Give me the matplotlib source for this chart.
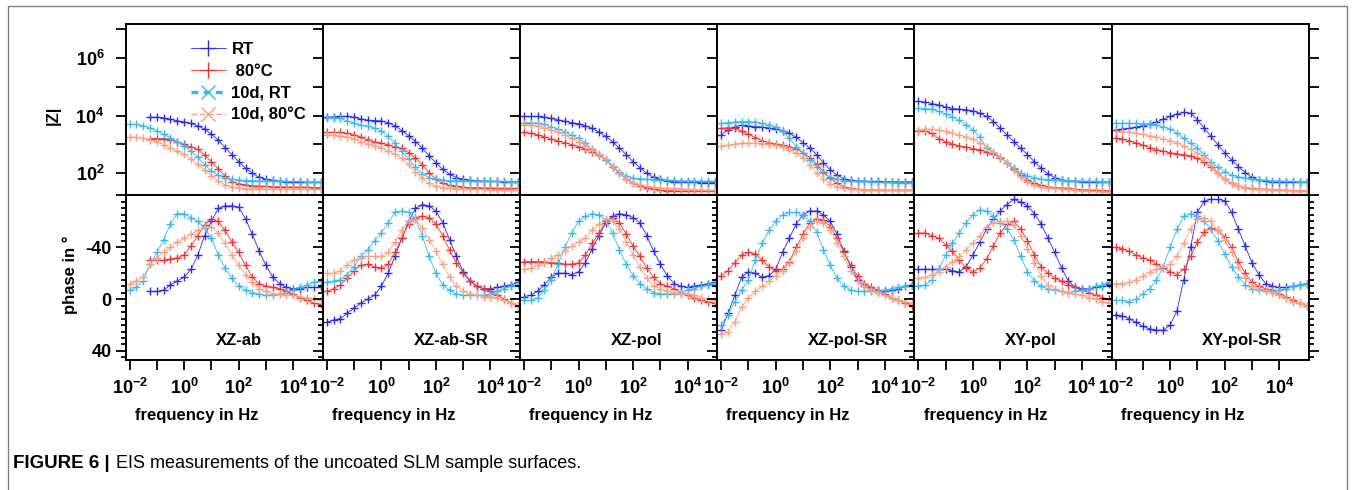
import numpy as np
import matplotlib
matplotlib.use("Agg")
import matplotlib.pyplot as plt
from matplotlib.lines import Line2D
from matplotlib.patches import Rectangle
from matplotlib.ticker import FixedLocator, NullFormatter, FuncFormatter

plt.rcParams['font.family'] = ['Liberation Sans', 'DejaVu Sans']
plt.rcParams['mathtext.fontset'] = 'custom'
plt.rcParams['mathtext.rm'] = 'Liberation Sans'
plt.rcParams['mathtext.bf'] = 'Liberation Sans:bold'

nan = np.nan

# frequency sweep in Hz
freq = [0.01, 0.0178, 0.0316, 0.0562, 0.1, 0.178, 0.316, 0.562, 1.0, 1.78, 3.16, 5.62,
        10, 17.8, 31.6, 56.2, 100, 178, 316, 562, 1000, 1780, 3160, 5620,
        1e4, 1.78e4, 3.16e4, 5.62e4, 1e5]

labels = ['RT', ' 80°C', '10d, RT', '10d, 80°C']
samples = ['XZ-ab', 'XZ-ab-SR', 'XZ-pol', 'XZ-pol-SR', 'XY-pol', 'XY-pol-SR']

# |Z| in Ohm
z_xzab_rt = [nan, nan, nan, 8700, 8700, 8300, 7300, 6600, 6000, 5400, 4400, 3400, 2250, 1400, 780, 440,
             250, 150, 100, 72, 62, 57, 53, 50, 49, 48, 48, 48, 48]
z_xzab_80 = [nan, nan, nan, 1600, 1600, 1600, 1450, 1230, 1000, 830, 670, 430, 250, 140, 81, 51,
             43, 40, 37, 36, 35, 34, 34, 33, 33, 33, 33, 32, 32]
z_xzab_10rt = [5000, 4900, 4400, 3700, 3000, 2250, 1700, 1250, 890, 590, 360, 200, 120, 85, 69, 62,
               59, 56, 56, 55, 54, 54, 53, 53, 52, 52, 51, 51, 51]
z_xzab_1080 = [1800, 1780, 1620, 1440, 1230, 990, 780, 590, 460, 320, 210, 130, 82, 53, 40, 34,
               31, 29, 29, 29, 28, 28, 28, 28, 28, 28, 28, 28, 28]

z_xzabsr_rt = [8800, 9000, 9300, 9300, 8800, 7600, 6900, 6700, 6500, 5700, 4400, 3000, 2000, 1250, 740, 400,
               230, 137, 93, 71, 62, 57, 55, 53, 52, 52, 51, 51, 51]
z_xzabsr_80 = [2600, 2600, 2600, 2400, 2100, 1780, 1450, 1230, 1100, 960, 840, 740, 520, 330, 195, 105,
               62, 45, 38, 35, 33, 32, 32, 31, 31, 30, 30, 30, 30]
z_xzabsr_10rt = [8500, 8500, 7900, 6600, 5400, 4700, 4300, 3700, 2900, 1900, 1100, 570, 310, 160, 95, 71,
                 62, 59, 56, 55, 55, 54, 54, 53, 53, 52, 52, 51, 51]
z_xzabsr_1080 = [2100, 2100, 1950, 1780, 1510, 1250, 1050, 890, 740, 590, 470, 330, 210, 115, 67, 45,
                 36, 32, 30, 29, 29, 28, 28, 28, 27, 27, 27, 27, 27]

z_xzpol_rt = [9300, 9300, 9300, 8800, 7900, 7100, 6300, 5700, 5200, 4400, 3600, 2700, 1900, 1230, 740, 440,
              250, 157, 100, 72, 61, 56, 51, 49, 48, 48, 47, 47, 47]
z_xzpol_80 = [2600, 2400, 2150, 1830, 1550, 1300, 1150, 980, 840, 690, 560, 420, 290, 170, 100, 62,
              45, 36, 31, 28, 26, 25, 25, 24, 24, 24, 24, 24, 24]
z_xzpol_10rt = [5700, 5600, 5400, 4900, 4100, 3400, 2700, 2100, 1630, 1100, 680, 440, 290, 170, 108, 81,
                69, 65, 62, 60, 59, 58, 57, 56, 55, 54, 54, 53, 53]
z_xzpol_1080 = [4800, 4700, 4400, 3800, 3200, 2600, 2100, 1630, 1250, 910, 650, 460, 310, 185, 105, 65,
                47, 40, 35, 33, 31, 30, 30, 29, 28, 27, 27, 26, 26]

z_xzpolsr_rt = [2150, 3200, 4100, 4600, 4400, 4100, 4000, 3700, 3500, 3000, 2400, 1780, 1150, 740, 440, 230,
                131, 86, 65, 57, 54, 53, 52, 52, 51, 51, 50, 50, 50]
z_xzpolsr_80 = [3600, 3800, 3600, 2900, 2250, 1730, 1350, 1150, 1040, 940, 840, 690, 520, 350, 210, 115,
                67, 45, 34, 30, 28, 27, 27, 26, 26, 26, 26, 26, 26]
z_xzpolsr_10rt = [5400, 5700, 6000, 6200, 6200, 6000, 5400, 4800, 4100, 2800, 1630, 840, 490, 290, 170, 100,
                  72, 62, 56, 54, 53, 52, 51, 50, 48, 48, 47, 47, 47]
z_xzpolsr_1080 = [890, 940, 1040, 1100, 1100, 1100, 1070, 1020, 940, 800, 650, 490, 330, 195, 105, 62,
                  43, 34, 31, 29, 28, 27, 27, 26, 26, 26, 26, 26, 26]

z_xypol_rt = [31000, 29000, 26000, 23000, 19500, 17500, 16600, 15800, 14500, 12000, 9300, 6200, 3600, 2100,
              1250, 740, 440, 250, 148, 95, 71, 59, 54, 52, 51, 51, 50, 50, 50]
z_xypol_80 = [3000, 2900, 2400, 1550, 1250, 1000, 890, 800, 720, 650, 550, 460, 350, 235, 138, 87,
              59, 45, 38, 34, 32, 31, 30, 28, 27, 26, 26, 25, 25]
z_xypol_10rt = [18000, 17400, 16600, 13800, 11500, 9200, 6800, 4700, 3200, 1780, 760, 520, 360, 235, 148, 105,
                83, 71, 63, 60, 59, 57, 56, 55, 54, 53, 52, 51, 51]
z_xypol_1080 = [3200, 3350, 3350, 3100, 2800, 2450, 2150, 1780, 1510, 1150, 840, 550, 360, 220, 125, 73,
                49, 38, 34, 32, 30, 29, 28, 27, 25, 24, 24, 23, 23]

z_xypolsr_rt = [3200, 3400, 3600, 4000, 4400, 5000, 6000, 7400, 9300, 11400, 13000, 12000, 7100, 3600, 1900, 960,
                520, 290, 170, 105, 72, 58, 52, 51, 50, 50, 50, 50, 50]
z_xypolsr_80 = [1630, 1550, 1350, 1100, 940, 780, 660, 580, 520, 470, 440, 400, 330, 250, 170, 100,
                63, 45, 36, 32, 30, 28, 28, 27, 26, 26, 25, 25, 25]
z_xypolsr_10rt = [5400, 5400, 5400, 5400, 5200, 5100, 4700, 4100, 3400, 2450, 1630, 1100, 740, 440, 250, 160,
                  115, 87, 76, 69, 63, 60, 57, 55, 54, 53, 52, 51, 50]
z_xypolsr_1080 = [2800, 2700, 2600, 2450, 2250, 2000, 1830, 1600, 1350, 1100, 890, 680, 490, 330, 195, 105,
                  63, 45, 36, 32, 29, 28, 28, 27, 26, 26, 25, 25, 25]

# phase in degrees
ph_xzab_rt = [nan, nan, nan, -6, -6, -7, -11, -14, -17, -23, -34, -49, -60, -70, -72, -72,
              -71, -62, -50, -37, -26, -17, -12, -9, -8, -8, -9, -9, -9]
ph_xzab_80 = [nan, nan, nan, -30, -30, -30, -31, -32, -34, -41, -49, -57, -62, -60, -53, -44,
              -36, -26, -17, -12, -10, -9, -8, -6, -4, -1, 1, 3, 4]
ph_xzab_10rt = [-7, -9, -14, -27, -36, -46, -58, -66, -66, -63, -60, -55, -47, -34, -24, -16,
                -10, -7, -5, -4, -3, -3, -4, -5, -7, -9, -11, -13, -14]
ph_xzab_1080 = [-12, -14, -17, -27, -32, -36, -40, -44, -47, -50, -53, -56, -56, -51, -43, -34,
                -26, -19, -13, -8, -6, -4, -4, -3, -3, -2, -1, 0, 1]

ph_xzabsr_rt = [18, 16, 15, 11, 7, 3, 0, -3, -10, -20, -33, -47, -60, -70, -73, -72,
                -68, -59, -46, -33, -21, -14, -10, -8, -8, -9, -10, -11, -13]
ph_xzabsr_80 = [-6, -8, -11, -16, -22, -26, -27, -25, -24, -27, -36, -47, -58, -63, -64, -63,
                -58, -49, -38, -28, -20, -14, -10, -8, -6, -3, 0, 3, 5]
ph_xzabsr_10rt = [-13, -14, -15, -19, -25, -33, -38, -45, -51, -59, -67, -68, -67, -62, -49, -33,
                  -20, -11, -7, -4, -3, -3, -3, -3, -4, -6, -8, -10, -11]
ph_xzabsr_1080 = [-20, -20, -22, -26, -30, -32, -33, -33, -33, -36, -44, -53, -60, -62, -55, -46,
                  -37, -27, -17, -10, -6, -4, -3, -2, -2, -1, 1, 3, 5]

ph_xzpol_rt = [-2, -3, -6, -11, -17, -20, -20, -19, -21, -28, -39, -49, -59, -64, -66, -65,
               -63, -59, -49, -37, -27, -18, -12, -10, -9, -10, -11, -12, -13]
ph_xzpol_80 = [-29, -29, -29, -29, -28, -28, -27, -27, -28, -34, -43, -51, -60, -63, -59, -50,
               -41, -33, -24, -17, -12, -10, -8, -5, -3, -1, 1, 2, 3]
ph_xzpol_10rt = [1, 1, -1, -7, -15, -27, -40, -51, -60, -64, -66, -65, -61, -51, -38, -27,
                 -18, -12, -8, -5, -4, -4, -4, -5, -7, -8, -10, -11, -12]
ph_xzpol_1080 = [-23, -24, -26, -28, -32, -34, -37, -41, -44, -47, -53, -58, -62, -60, -54, -44,
                 -34, -25, -16, -10, -8, -6, -5, -4, -4, -3, -1, 0, 1]

ph_xzpolsr_rt = [24, 11, -3, -17, -21, -20, -17, -18, -23, -36, -47, -58, -65, -68, -68, -65,
                 -60, -50, -37, -25, -15, -10, -7, -6, -6, -7, -8, -10, -11]
ph_xzpolsr_80 = [-18, -22, -28, -34, -36, -35, -30, -25, -22, -23, -29, -40, -50, -59, -62, -61,
                 -56, -47, -36, -26, -18, -12, -9, -7, -4, -1, 1, 3, 5]
ph_xzpolsr_10rt = [20, 12, 2, -7, -15, -30, -43, -53, -60, -65, -67, -67, -65, -60, -52, -38,
                   -26, -16, -10, -7, -6, -6, -6, -6, -7, -8, -9, -10, -10]
ph_xzpolsr_1080 = [27, 25, 18, 6, -1, -6, -10, -14, -18, -22, -28, -37, -47, -56, -60, -59,
                   -53, -43, -33, -22, -14, -10, -7, -5, -3, -1, 1, 2, 3]

ph_xypol_rt = [-23, -23, -23, -23, -23, -22, -21, -25, -34, -44, -54, -62, -68, -73, -77, -75,
               -72, -66, -58, -47, -36, -24, -14, -9, -8, -8, -9, -10, -12]
ph_xypol_80 = [-51, -51, -49, -47, -42, -37, -30, -24, -21, -24, -31, -41, -51, -58, -60, -54,
               -45, -34, -25, -20, -16, -14, -11, -9, -7, -5, -3, -1, 0]
ph_xypol_10rt = [-10, -11, -15, -23, -34, -43, -51, -59, -65, -69, -68, -64, -59, -54, -46, -33,
                 -21, -14, -10, -8, -7, -6, -5, -6, -7, -8, -10, -11, -13]
ph_xypol_1080 = [-16, -17, -19, -21, -25, -29, -33, -38, -43, -49, -56, -59, -60, -60, -57, -49,
                 -39, -28, -18, -11, -8, -6, -5, -4, -3, -1, 0, 2, 3]

ph_xypolsr_rt = [12, 13, 15, 18, 21, 23, 24, 24, 20, 9, -15, -40, -67, -76, -77, -77,
                 -76, -67, -54, -41, -28, -19, -12, -10, -9, -9, -10, -11, -12]
ph_xypolsr_80 = [-40, -39, -37, -34, -32, -30, -27, -24, -21, -19, -23, -33, -44, -52, -55, -53,
                 -48, -40, -29, -20, -13, -10, -8, -7, -4, -2, 1, 3, 5]
ph_xypolsr_10rt = [1, 1, 2, 0, -4, -8, -15, -25, -40, -54, -64, -66, -64, -60, -54, -45,
                   -35, -25, -17, -11, -8, -7, -6, -6, -7, -8, -10, -11, -12]
ph_xypolsr_1080 = [-12, -12, -13, -15, -18, -21, -23, -25, -27, -33, -43, -54, -62, -63, -60, -53,
                   -46, -36, -25, -16, -10, -8, -7, -5, -3, -1, 2, 3, 5]

zmod = [
    [z_xzab_rt, z_xzab_80, z_xzab_10rt, z_xzab_1080],
    [z_xzabsr_rt, z_xzabsr_80, z_xzabsr_10rt, z_xzabsr_1080],
    [z_xzpol_rt, z_xzpol_80, z_xzpol_10rt, z_xzpol_1080],
    [z_xzpolsr_rt, z_xzpolsr_80, z_xzpolsr_10rt, z_xzpolsr_1080],
    [z_xypol_rt, z_xypol_80, z_xypol_10rt, z_xypol_1080],
    [z_xypolsr_rt, z_xypolsr_80, z_xypolsr_10rt, z_xypolsr_1080],
]
phase = [
    [ph_xzab_rt, ph_xzab_80, ph_xzab_10rt, ph_xzab_1080],
    [ph_xzabsr_rt, ph_xzabsr_80, ph_xzabsr_10rt, ph_xzabsr_1080],
    [ph_xzpol_rt, ph_xzpol_80, ph_xzpol_10rt, ph_xzpol_1080],
    [ph_xzpolsr_rt, ph_xzpolsr_80, ph_xzpolsr_10rt, ph_xzpolsr_1080],
    [ph_xypol_rt, ph_xypol_80, ph_xypol_10rt, ph_xypol_1080],
    [ph_xypolsr_rt, ph_xypolsr_80, ph_xypolsr_10rt, ph_xypolsr_1080],
]

colors = ['#2b2be6', '#f03232', '#3ab8ee', '#f6a282']

W, H = 1356, 490
fig = plt.figure(figsize=(W / 100, H / 100), dpi=100)

def pow10(v, pos):
    e = int(round(np.log10(v)))
    return r'$\mathbf{10^{%d}}$' % e

x0 = 125.5
pw = 197.2
fs = 12
tfs = 13

for i in range(6):
    left = (x0 + i * pw) / W
    ax_z = fig.add_axes([left, 1 - 195.5 / H, pw / W, 171.5 / H])
    ax_p = fig.add_axes([left, 1 - 360 / H, pw / W, 164.5 / H])

    for k in range(4):
        ax_z.plot(freq, zmod[i][k], color=colors[k], lw=0.6, marker='+', ms=5.5, mew=1.0)
        ax_p.plot(freq, phase[i][k], color=colors[k], lw=0.6, marker='+', ms=5.5, mew=1.0)

    for ax in (ax_z, ax_p):
        ax.set_xscale('log')
        ax.set_xlim(10 ** -2.15, 10 ** 5.08)
        ax.xaxis.set_major_locator(FixedLocator([1e-2, 1e-1, 1, 10, 1e2, 1e3, 1e4]))
        ax.xaxis.set_minor_locator(FixedLocator([]))
        for s in ax.spines.values():
            s.set_linewidth(1.4)
        ax.tick_params(which='both', direction='out', left=True, right=True, top=False,
                       width=1.3, labelsize=tfs)
        ax.tick_params(which='major', length=7, pad=3)
        ax.tick_params(which='minor', length=3.5)

    ax_z.set_yscale('log')
    ax_z.set_ylim(10 ** 1.23, 10 ** 7.17)
    ax_z.yaxis.set_major_locator(FixedLocator([1e2, 1e3, 1e4, 1e5, 1e6, 1e7]))
    ax_z.yaxis.set_minor_locator(FixedLocator([]))
    ax_z.xaxis.set_major_formatter(NullFormatter())
    if i == 0:
        ax_z.yaxis.set_major_formatter(FuncFormatter(
            lambda v, p: pow10(v, p) if round(np.log10(v)) % 2 == 0 else ''))
        ax_z.tick_params(axis='y', pad=8)
    else:
        ax_z.yaxis.set_major_formatter(NullFormatter())

    ax_p.set_ylim(47, -80)
    ax_p.yaxis.set_major_locator(FixedLocator([-80, -40, 0, 40]))
    ax_p.yaxis.set_minor_locator(FixedLocator(list(range(-75, 47, 5))))
    ax_p.xaxis.set_major_formatter(FuncFormatter(
        lambda v, p: pow10(v, p) if round(np.log10(v)) % 2 == 0 else ''))
    ax_p.tick_params(axis='x', pad=6)
    if i == 0:
        ax_p.yaxis.set_major_formatter(FuncFormatter(
            lambda v, p: '' if v < -60 else '%d' % abs(v) if v > 0 else '%d' % v))
        for t in ax_p.get_yticklabels():
            t.set_fontweight('bold')
    else:
        ax_p.yaxis.set_major_formatter(NullFormatter())

    ax_p.text(0.46, 0.12, samples[i], transform=ax_p.transAxes, ha='left', va='center',
              fontsize=fs, fontweight='bold')
    fig.text((x0 + i * pw + 71) / W, 1 - 415 / H, 'frequency in Hz', ha='center', va='center',
             fontsize=fs, fontweight='bold')

    if i == 0:
        handles = [
            Line2D([], [], color=colors[0], lw=0.6, marker='+', ms=12, mew=1.0),
            Line2D([], [], color=colors[1], lw=0.6, marker='+', ms=12, mew=1.0),
            Line2D([], [], color=colors[2], lw=2.5, ls=(0, (2, 1.5)), marker='x', ms=10, mew=1.0),
            Line2D([], [], color=colors[3], lw=1.0, ls=(0, (4, 2)), marker='x', ms=10, mew=1.0),
        ]
        leg = ax_z.legend(handles, labels, loc='upper left', bbox_to_anchor=(0.33, 0.897),
                          frameon=False, handlelength=2.1, handletextpad=0.35,
                          labelspacing=0.42, borderaxespad=0, borderpad=0,
                          prop={'weight': 'bold', 'size': fs})

fig.text(53 / W, 1 - 115 / H, '|Z|', rotation=90, ha='center', va='center',
         fontsize=fs, fontweight='bold')
fig.text(70 / W, 1 - 275 / H, 'phase in °', rotation=90, ha='center', va='center',
         fontsize=fs, fontweight='bold')

# outer frame and caption
fig.patches.append(Rectangle((8 / W, -0.05), 1339 / W, 1.05 - 6 / H, transform=fig.transFigure,
                             fill=False, edgecolor='#808080', lw=1.0))
fig.text(13 / W, 1 - 463 / H, 'FIGURE 6 |', ha='left', va='center', fontsize=13.5,
         fontweight='bold')
fig.text(116 / W, 1 - 463 / H, 'EIS measurements of the uncoated SLM sample surfaces.',
         ha='left', va='center', fontsize=13)

fig.savefig('out.png', dpi=100)
